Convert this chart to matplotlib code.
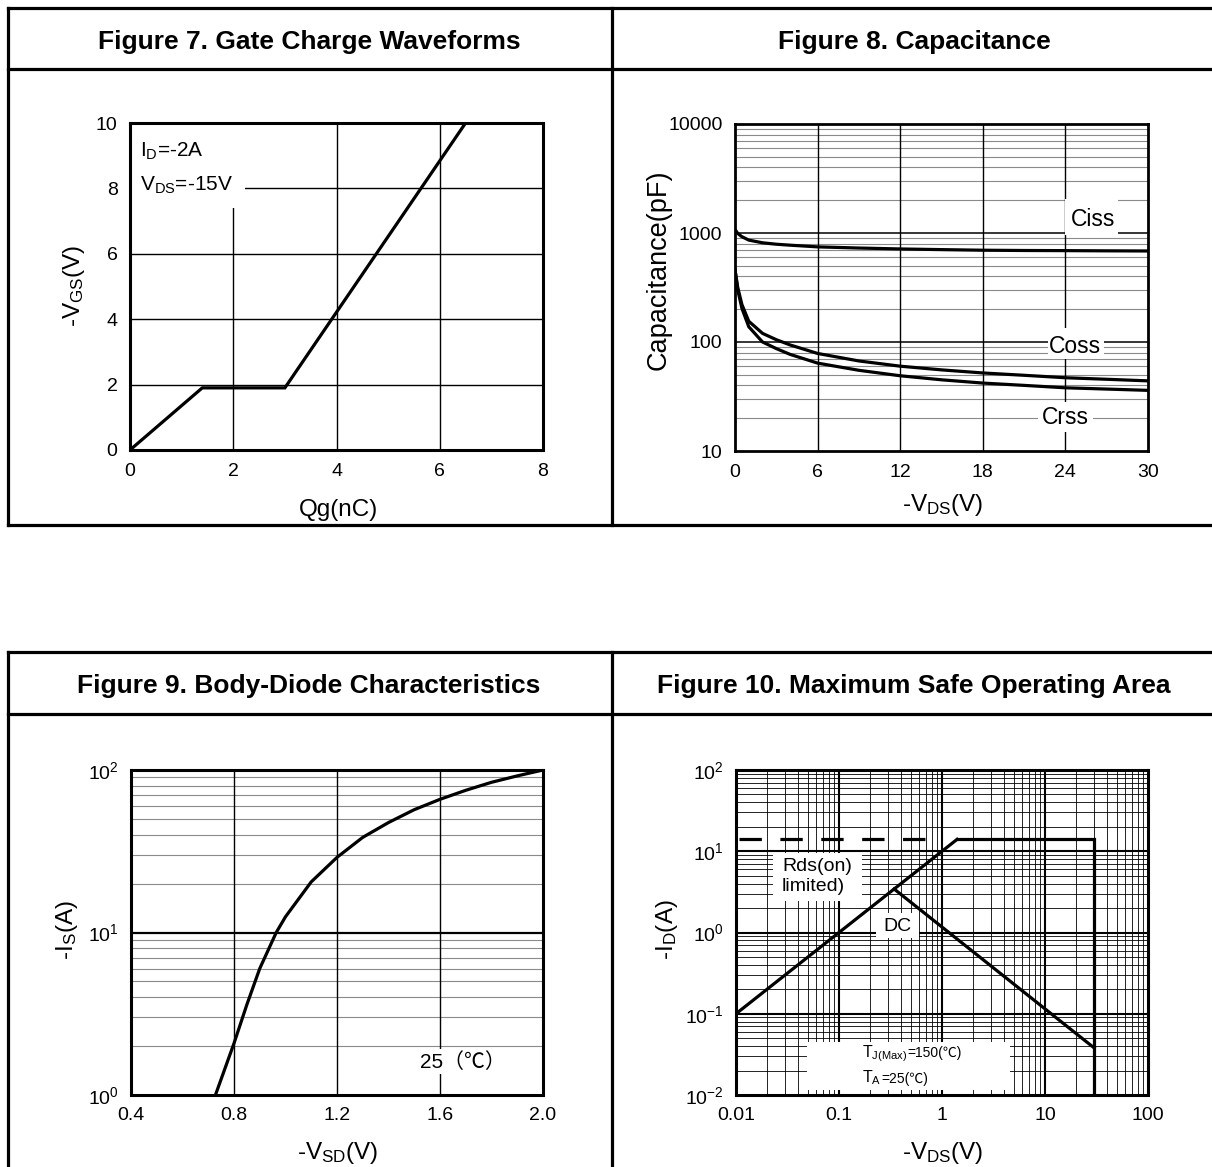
import matplotlib
matplotlib.use('Agg')
import matplotlib.pyplot as plt
from matplotlib.patches import Rectangle
from matplotlib.lines import Line2D

plt.rcParams['font.family'] = ['Liberation Sans', 'Noto Sans CJK SC', 'DejaVu Sans']
plt.rcParams['mathtext.fontset'] = 'custom'
plt.rcParams['mathtext.rm'] = 'Liberation Sans'
plt.rcParams['mathtext.it'] = 'Liberation Sans:italic'
plt.rcParams['mathtext.bf'] = 'Liberation Sans:bold'
plt.rcParams['axes.unicode_minus'] = False

# ---------------- data ----------------
# Figure 7 gate charge
qg = [0.0, 1.4, 3.0, 6.5]
vgs = [0.0, 1.9, 1.9, 10.0]

# Figure 8 capacitance
vds_c = [0, 0.2, 0.5, 1, 2, 3, 4, 6, 9, 12, 15, 18, 21, 24, 27, 30]
ciss = [1080, 990, 925, 861, 813, 789, 773, 746, 728, 714, 704, 695, 691, 689, 686, 684]
coss = [460, 316, 221, 155, 120, 105, 94, 78.5, 67, 60, 55.5, 52, 49.5, 47, 45.5, 44]
crss = [460, 300, 204, 138, 100, 87, 77, 64, 55, 49, 45, 42, 40, 38, 37, 36]

# Figure 9 body diode
vsd = [0.728, 0.8, 0.85, 0.9, 0.964, 1.0, 1.1, 1.2, 1.3, 1.4, 1.5, 1.6, 1.7, 1.8, 1.9, 2.0]
i_s = [1.0, 2.08, 3.6, 6.0, 10.0, 12.5, 20.5, 29.0, 38.5, 47.5, 57.0, 66.0, 75.0, 84.0, 92.0, 100.0]

# Figure 10 SOA
rds_v = [0.01, 1.4]
rds_i = [0.1, 14.0]
dash_v = [0.0108, 0.86]
dash_i = [14.0, 14.0]
lim_v = [1.4, 30.0, 30.0]
lim_i = [14.0, 14.0, 0.01]
dc_v = [0.343, 30.0]
dc_i = [3.43, 0.038]

titles = ["Figure 7. Gate Charge Waveforms", "Figure 8. Capacitance",
          "Figure 9. Body-Diode Characteristics", "Figure 10. Maximum Safe Operating Area"]

# ---------------- layout helpers ----------------
W, H = 1212, 1167
fig = plt.figure(figsize=(W / 100, H / 100), dpi=100)


def rect(x0, y0, x1, y1):
    return [x0 / W, 1 - y1 / H, (x1 - x0) / W, (y1 - y0) / H]


def fx(x):
    return x / W


def fy(y):
    return 1 - y / H


def hline(y, x0, x1, lw=2.3):
    fig.add_artist(Line2D([fx(x0), fx(x1)], [fy(y), fy(y)], color='black', lw=lw,
                          transform=fig.transFigure, solid_capstyle='projecting'))


def vline(x, y0, y1, lw=2.3):
    fig.add_artist(Line2D([fx(x), fx(x)], [fy(y0), fy(y1)], color='black', lw=lw,
                          transform=fig.transFigure, solid_capstyle='projecting'))


# frames
for top, sep, bot in [(8, 69, 525), (652, 714, 1175)]:
    hline(top, 8, 1220)
    hline(sep, 8, 1220)
    hline(bot, 8, 1220)
    vline(8, top, bot)
    vline(612, top, bot)

TFS = 19
fig.text(fx(309), fy(48.5), titles[0], ha='center', va='baseline', fontsize=TFS, fontweight='bold')
fig.text(fx(914), fy(48.5), titles[1], ha='center', va='baseline', fontsize=TFS, fontweight='bold')
fig.text(fx(309), fy(693), titles[2], ha='center', va='baseline', fontsize=TFS, fontweight='bold')
fig.text(fx(914), fy(693), titles[3], ha='center', va='baseline', fontsize=TFS, fontweight='bold')

TK = 14
LBL = 17.5
CLW = 2.3


def style(ax, spine_lw=2.0, padx=9, pady=9):
    for s in ax.spines.values():
        s.set_linewidth(spine_lw)
        s.set_zorder(5)
    ax.tick_params(axis='both', which='both', length=0, labelsize=TK)
    ax.tick_params(axis='x', pad=padx)
    ax.tick_params(axis='y', pad=pady)


def minor_vals(k0, k1):
    return [m * 10.0 ** k for k in range(k0, k1) for m in range(2, 10)]


# ---------------- Figure 7 ----------------
ax7 = fig.add_axes(rect(130, 123, 543, 450))
ax7.set_xlim(0, 8)
ax7.set_ylim(0, 10)
ax7.set_xticks([0, 2, 4, 6, 8])
ax7.set_yticks([0, 2, 4, 6, 8, 10])
for v in [2, 4, 6]:
    ax7.axvline(v, color='black', lw=1.0, zorder=0.6)
for v in [2, 4, 6, 8]:
    ax7.axhline(v, color='black', lw=1.0, zorder=0.6)
ax7.add_patch(Rectangle((0.03, 7.4), 2.2, 2.57, facecolor='white', edgecolor='none', zorder=1))
ax7.plot(qg, vgs, color='black', lw=CLW, zorder=3, solid_joinstyle='miter')
ax7.text(0.19, 8.96, r"I$_\mathrm{D}$=-2A", fontsize=15, va='baseline', ha='left', zorder=4)
ax7.text(0.19, 7.92, r"V$_\mathrm{DS}$=-15V", fontsize=15, va='baseline', ha='left', zorder=4)
style(ax7, spine_lw=2.2)
fig.text(fx(74), fy(286), r"-V$_\mathrm{GS}$(V)", rotation=90, ha='center', va='center', fontsize=LBL)
fig.text(fx(338), fy(516), "Qg(nC)", ha='center', va='baseline', fontsize=LBL)

# ---------------- Figure 8 ----------------
ax8 = fig.add_axes(rect(735, 124, 1148, 451))
ax8.set_yscale('log')
ax8.set_xlim(0, 30)
ax8.set_ylim(10, 10000)
ax8.set_xticks([0, 6, 12, 18, 24, 30])
ax8.set_yticks([10, 100, 1000, 10000], ['10', '100', '1000', '10000'])
ax8.yaxis.set_minor_locator(matplotlib.ticker.NullLocator())
for v in minor_vals(1, 4):
    ax8.axhline(v, color='#8a8a8a', lw=0.8, zorder=0.55)
for v in [100, 1000]:
    ax8.axhline(v, color='black', lw=1.1, zorder=0.6)
for v in [6, 12, 18, 24]:
    ax8.axvline(v, color='black', lw=1.0, zorder=0.6)
ax8.add_patch(Rectangle((24.0, 960), 3.8, 2050 - 960, facecolor='white', edgecolor='none', zorder=1))
ax8.add_patch(Rectangle((22.7, 70), 4.1, 135 - 70, facecolor='white', edgecolor='none', zorder=1))
ax8.add_patch(Rectangle((22.0, 15.0), 4.0, 28.0 - 15.0, facecolor='white', edgecolor='none', zorder=1))
ax8.plot(vds_c, ciss, color='black', lw=CLW, zorder=3)
ax8.plot(vds_c, coss, color='black', lw=CLW, zorder=3)
ax8.plot(vds_c, crss, color='black', lw=CLW, zorder=3)
ax8.text(26.0, 1330, "Ciss", fontsize=16.5, ha='center', va='center', zorder=4)
ax8.text(24.7, 90, "Coss", fontsize=16.5, ha='center', va='center', zorder=4)
ax8.text(24.0, 20.5, "Crss", fontsize=16.5, ha='center', va='center', zorder=4)
style(ax8, spine_lw=2.0)
fig.text(fx(659), fy(270), "Capacitance(pF)", rotation=90, ha='center', va='center', fontsize=19.5)
fig.text(fx(943), fy(511), r"-V$_\mathrm{DS}$(V)", ha='center', va='baseline', fontsize=LBL)

# ---------------- Figure 9 ----------------
ax9 = fig.add_axes(rect(131, 770, 543, 1095))
ax9.set_yscale('log')
ax9.set_xlim(0.4, 2.0)
ax9.set_ylim(1, 100)
ax9.set_xticks([0.4, 0.8, 1.2, 1.6, 2.0], ['0.4', '0.8', '1.2', '1.6', '2.0'])
ax9.set_yticks([1, 10, 100], [r'$10^{0}$', r'$10^{1}$', r'$10^{2}$'])
ax9.yaxis.set_minor_locator(matplotlib.ticker.NullLocator())
for v in minor_vals(0, 2):
    ax9.axhline(v, color='#8a8a8a', lw=0.8, zorder=0.55)
ax9.axhline(10, color='black', lw=1.6, zorder=0.6)
for v in [0.8, 1.2, 1.6]:
    ax9.axvline(v, color='black', lw=1.0, zorder=0.6)
ax9.plot(vsd, i_s, color='black', lw=CLW, zorder=3)
ax9.text(1.69, 1.6, "25（℃）", fontsize=15, ha='center', va='center', zorder=4,
         family=['Liberation Sans', 'Noto Sans CJK SC'],
         bbox=dict(facecolor='white', edgecolor='none', pad=2))
style(ax9, spine_lw=2.2)
fig.text(fx(67), fy(930), r"-I$_\mathrm{S}$(A)", rotation=90, ha='center', va='center', fontsize=LBL)
fig.text(fx(338), fy(1159), r"-V$_\mathrm{SD}$(V)", ha='center', va='baseline', fontsize=LBL)

# ---------------- Figure 10 ----------------
ax10 = fig.add_axes(rect(736, 770, 1148, 1095))
ax10.set_xscale('log')
ax10.set_yscale('log')
ax10.set_xlim(0.01, 100)
ax10.set_ylim(0.01, 100)
ax10.set_xticks([0.01, 0.1, 1, 10, 100], ['0.01', '0.1', '1', '10', '100'])
ax10.set_yticks([0.01, 0.1, 1, 10, 100],
                [r'$10^{-2}$', r'$10^{-1}$', r'$10^{0}$', r'$10^{1}$', r'$10^{2}$'])
ax10.xaxis.set_minor_locator(matplotlib.ticker.NullLocator())
ax10.yaxis.set_minor_locator(matplotlib.ticker.NullLocator())
for v in minor_vals(-2, 2):
    ax10.axhline(v, color='black', lw=0.6, zorder=0.55)
    ax10.axvline(v, color='black', lw=0.6, zorder=0.55)
for v in [0.1, 1, 10]:
    ax10.axhline(v, color='black', lw=1.5, zorder=0.6)
    ax10.axvline(v, color='black', lw=1.5, zorder=0.6)
ax10.add_patch(Rectangle((0.0229, 2.45), 0.167 - 0.0229, 9.6 - 2.45, facecolor='white', edgecolor='none', zorder=1))
ax10.add_patch(Rectangle((0.228, 0.86), 0.6 - 0.228, 1.74 - 0.86, facecolor='white', edgecolor='none', zorder=1))
ax10.add_patch(Rectangle((0.0489, 0.0115), 4.57 - 0.0489, 0.0449 - 0.0115, facecolor='white', edgecolor='none', zorder=1))
ax10.plot(rds_v, rds_i, color='black', lw=CLW, zorder=3)
ax10.plot(lim_v, lim_i, color='black', lw=CLW, zorder=3, solid_joinstyle='miter')
ax10.plot(dc_v, dc_i, color='black', lw=CLW, zorder=3)
ax10.plot(dash_v, dash_i, color='black', lw=CLW, zorder=3, linestyle=(0, (7.0, 5.8)), dash_capstyle='butt')
ax10.text(0.061, 4.9, "Rds(on)\nlimited)", fontsize=14, ha='center', va='center', multialignment='left',
          linespacing=1.25, zorder=4)
ax10.text(0.366, 1.2, "DC", fontsize=14, ha='center', va='center', zorder=4)

cjk = ['Liberation Sans', 'Noto Sans CJK SC']
t1 = ax10.text(0.167, 0.0290, r"T$_\mathrm{J(Max)}$", fontsize=11.5, ha='left', va='baseline', zorder=4)
ax10.annotate("=150(℃)", xy=(1.0, 0.0290), xycoords=(t1, 'data'), fontsize=10,
              ha='left', va='baseline', zorder=4, family=cjk)
t2 = ax10.text(0.167, 0.0142, r"T$_\mathrm{A}$", fontsize=11.5, ha='left', va='baseline', zorder=4)
ax10.annotate("=25(℃)", xy=(1.0, 0.0142), xycoords=(t2, 'data'), fontsize=10,
              ha='left', va='baseline', zorder=4, family=cjk)
style(ax10, spine_lw=2.2)
fig.text(fx(667), fy(930), r"-I$_\mathrm{D}$(A)", rotation=90, ha='center', va='center', fontsize=LBL)
fig.text(fx(943), fy(1159), r"-V$_\mathrm{DS}$(V)", ha='center', va='baseline', fontsize=LBL)

fig.savefig('out.png', dpi=100, facecolor='white')
